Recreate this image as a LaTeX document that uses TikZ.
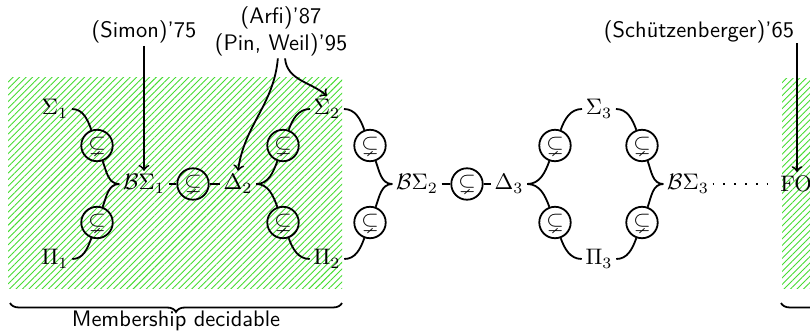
\documentclass[tikz,border=0pt]{standalone}
\usepackage{amssymb}
\usepackage{fontspec}
\usetikzlibrary{patterns.meta,decorations.pathreplacing}
\definecolor{hatchgreen}{RGB}{70,220,50}
\begin{document}
\begin{tikzpicture}[x=0.4454pt,y=-0.4454pt,
  lab/.style={inner sep=1.5pt},
  sub/.style={circle,draw,thick,minimum size=14pt,inner sep=0pt},
  conn/.style={thick},
  cite/.style={font=\sffamily,inner sep=1pt,align=center},
  hatch/.style={pattern={Lines[angle=45,distance=2.05pt,line width=0.4pt]},pattern color=hatchgreen},
  brc/.style={decorate,decoration={brace,mirror,amplitude=4pt},thick}
]
\clip (0,0) rectangle (810,331);
% hatched regions
\fill[hatch] (8,77) rectangle (342,288);
\fill[hatch] (782,78) rectangle (870,288);
% braces
\draw[brc] (10,303) -- (342,303);
\draw[brc] (781,303) -- (900,303);
\node[cite] (memb) at (176,321) {Membership decidable};
% level nodes
\node[lab] (s1) at (55,109) {$\Sigma_1$};
\node[sub] (c1u) at (97,145.5) {$\subsetneq$};
\node[lab] (b1) at (144,184) {$\mathcal{B}\Sigma_1$};
\node[sub] (c1d) at (97,222.5) {$\subsetneq$};
\node[lab] (p1) at (55,259) {$\Pi_1$};
\node[sub] (cm1) at (193,184) {$\subsetneq$};
\node[lab] (d2) at (238,184) {$\Delta_2$};
\node[sub] (c2u) at (283,145.5) {$\subsetneq$};
\node[sub] (c2d) at (283,222.5) {$\subsetneq$};
\node[lab] (s2) at (327,109) {$\Sigma_2$};
\node[lab] (p2) at (327,259) {$\Pi_2$};
\node[sub] (c2ru) at (370,145.5) {$\subsetneq$};
\node[sub] (c2rd) at (370,222.5) {$\subsetneq$};
\node[lab] (b2) at (417,184) {$\mathcal{B}\Sigma_2$};
\node[sub] (cm2) at (467,184) {$\subsetneq$};
\node[lab] (d3) at (509,184) {$\Delta_3$};
\node[sub] (c3lu) at (555,145.5) {$\subsetneq$};
\node[sub] (c3ld) at (555,222.5) {$\subsetneq$};
\node[lab] (s3) at (599,109) {$\Sigma_3$};
\node[lab] (p3) at (599,259) {$\Pi_3$};
\node[sub] (c3ru) at (642,145.5) {$\subsetneq$};
\node[sub] (c3rd) at (642,222.5) {$\subsetneq$};
\node[lab] (b3) at (688,184) {$\mathcal{B}\Sigma_3$};
\node[lab] (fo) at (796,184) {FO};
% citations
\node[cite] (simon) at (144,32) {(Simon)'75};
\node[cite] (pw) at (281,31) {(Arfi)'87\\(Pin, Weil)'95};
\node[cite] (schu) at (699,32) {(Schützenberger)'65};
\coordinate (st) at (797,43);
% connectors level 1
\draw[conn] (s1.east) to[out=0,in=110] (c1u.110);
\draw[conn] (c1u.-70) to[out=-70,in=180] (b1.west);
\draw[conn] (b1.west) to[out=180,in=70] (c1d.70);
\draw[conn] (c1d.-110) to[out=-110,in=0] (p1.east);
\draw[conn] (b1.east) -- (cm1.west);
\draw[conn] (cm1.east) -- (d2.west);
% level 2
\draw[conn] (d2.east) to[out=0,in=-110] (c2u.-110);
\draw[conn] (c2u.70) to[out=70,in=180] (s2.west);
\draw[conn] (d2.east) to[out=0,in=110] (c2d.110);
\draw[conn] (c2d.-70) to[out=-70,in=180] (p2.west);
\draw[conn] (s2.east) to[out=0,in=110] (c2ru.110);
\draw[conn] (c2ru.-70) to[out=-70,in=180] (b2.west);
\draw[conn] (p2.east) to[out=0,in=-110] (c2rd.-110);
\draw[conn] (c2rd.70) to[out=70,in=180] (b2.west);
\draw[conn] (b2.east) -- (cm2.west);
\draw[conn] (cm2.east) -- (d3.west);
% level 3
\draw[conn] (d3.east) to[out=0,in=-110] (c3lu.-110);
\draw[conn] (c3lu.70) to[out=70,in=180] (s3.west);
\draw[conn] (d3.east) to[out=0,in=110] (c3ld.110);
\draw[conn] (c3ld.-70) to[out=-70,in=180] (p3.west);
\draw[conn] (s3.east) to[out=0,in=110] (c3ru.110);
\draw[conn] (c3ru.-70) to[out=-70,in=180] (b3.west);
\draw[conn] (p3.east) to[out=0,in=-110] (c3rd.-110);
\draw[conn] (c3rd.70) to[out=70,in=180] (b3.west);
\draw[conn,loosely dotted] (b3.east) -- ([xshift=-2pt]fo.west);
% citation arrows
\draw[conn,->] (simon.south) -- (simon.south |- b1.north);
\draw[conn,->] ([xshift=-1.4pt]pw.south) to[out=-95,in=82] (d2.north);
\draw[conn,->] ([xshift=1.8pt]pw.south) to[out=-85,in=140] (s2.north);
\draw[conn,->] (st) -- (st |- fo.north);
\end{tikzpicture}
\end{document}
